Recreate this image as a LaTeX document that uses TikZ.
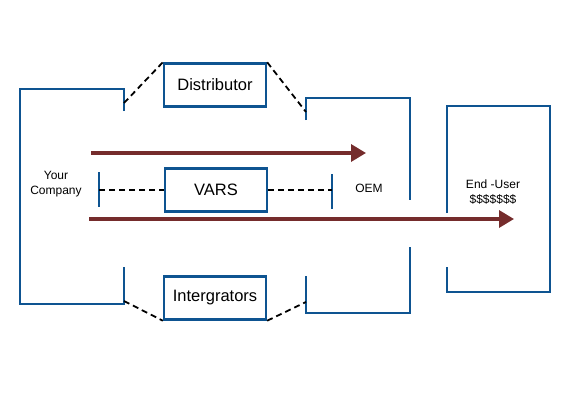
\documentclass[tikz,border=0pt]{standalone}
\usepackage{fontspec}
\setmainfont{Liberation Sans}
\usetikzlibrary{arrows.meta}
\definecolor{frameblue}{RGB}{14,84,145}
\definecolor{flowred}{RGB}{117,44,44}
\tikzset{
  frame/.style={draw=frameblue, line width=2.4pt},
  boxnode/.style={frame, minimum width=102pt, minimum height=43pt, inner sep=0pt, font=\fontsize{16.5}{19}\selectfont},
  smalltext/.style={font=\fontsize{12}{14.5}\selectfont, align=center, inner sep=0pt},
  dashlink/.style={draw=black, line width=1.8pt, dash pattern=on 6pt off 4pt},
  flow/.style={draw=flowred, line width=3.4pt, -{Triangle[length=15pt, width=17pt]}}
}
\begin{document}
\begin{tikzpicture}[x=1pt, y=-1pt]
\useasboundingbox (0,0) rectangle (570,420);
% brackets
\draw[frame] (124,111) -- (124,89) -- (20,89) -- (20,304) -- (124,304) -- (124,267);
\draw[frame] (306,120) -- (306,98) -- (410,98) -- (410,200);
\draw[frame] (306,276) -- (306,313) -- (410,313) -- (410,247);
\draw[frame] (447,213) -- (447,106) -- (550,106) -- (550,292) -- (447,292) -- (447,267);
% ticks
\draw[frame] (99,172) -- (99,207);
\draw[frame] (332,174) -- (332,209);
% coordinates
\coordinate (ycTop) at (124,103);
\coordinate (ycBot) at (124,301);
\coordinate (oemTop) at (306,112);
\coordinate (oemBot) at (306,302);
\coordinate (tickL) at (99,190);
\coordinate (tickR) at (332,190);
\coordinate (a1s) at (91,153);
\coordinate (a1e) at (366,153);
\coordinate (a2s) at (89,219);
\coordinate (a2e) at (514,219);
% boxes
\node[boxnode] (dist) at (215,85) {Distributor};
\node[boxnode] (vars) at (216,190) {VARS};
\node[boxnode] (integ) at (215,298) {Intergrators};
% texts
\node[smalltext] (yc) at (56,184) {Your\\Company};
\node[smalltext] (oem) at (369,188) {OEM};
\node[smalltext] (eu) at (493,192) {End -User\\\$\$\$\$\$\$\$};
% dashed links
\draw[dashlink] (ycTop) -- (dist.north west);
\draw[dashlink] (dist.north east) -- (oemTop);
\draw[dashlink] (ycBot) -- (integ.south west);
\draw[dashlink] (integ.south east) -- (oemBot);
\draw[dashlink] (tickL) -- (vars.west);
\draw[dashlink] (vars.east) -- (tickR);
% flows
\draw[flow] (a1s) -- (a1e);
\draw[flow] (a2s) -- (a2e);
\end{tikzpicture}
\end{document}
